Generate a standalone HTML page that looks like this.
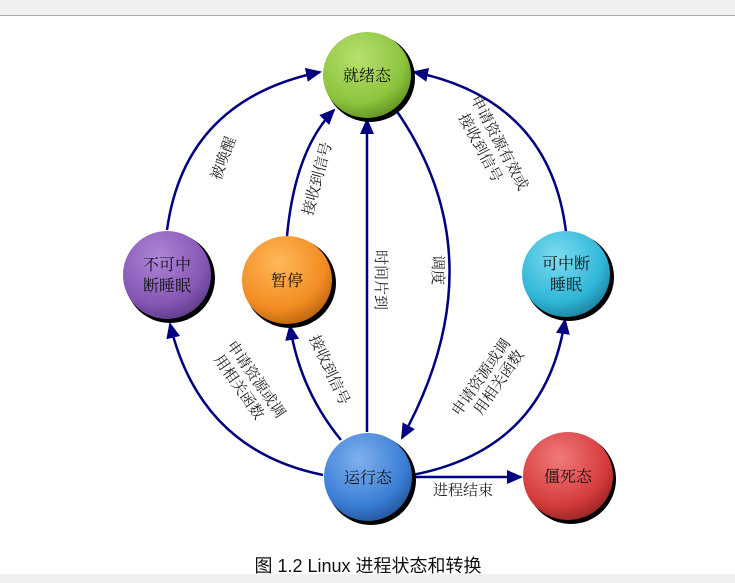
<!DOCTYPE html>
<html><head><meta charset="utf-8"><style>
html,body{margin:0;padding:0;background:#fff;}
body{width:735px;height:583px;overflow:hidden;position:relative;}
svg{position:absolute;left:0;top:0;}
</style></head><body>
<svg width="735" height="583" viewBox="0 0 735 583" xmlns="http://www.w3.org/2000/svg" font-family="'Liberation Serif','Noto Serif CJK SC',serif">
<defs>
<radialGradient id="gG" cx="0.4" cy="0.3" r="0.75"><stop offset="0" stop-color="#b8e070"/><stop offset="0.7" stop-color="#8cc43c"/><stop offset="1" stop-color="#5f8f22"/></radialGradient>
<radialGradient id="gP" cx="0.4" cy="0.3" r="0.75"><stop offset="0" stop-color="#ad86d6"/><stop offset="0.7" stop-color="#8657b6"/><stop offset="1" stop-color="#5c3a85"/></radialGradient>
<radialGradient id="gO" cx="0.4" cy="0.3" r="0.75"><stop offset="0" stop-color="#ffb85a"/><stop offset="0.7" stop-color="#f28c22"/><stop offset="1" stop-color="#b8620e"/></radialGradient>
<radialGradient id="gC" cx="0.4" cy="0.3" r="0.75"><stop offset="0" stop-color="#7ddcf0"/><stop offset="0.7" stop-color="#2fb6d8"/><stop offset="1" stop-color="#1a7f9c"/></radialGradient>
<radialGradient id="gB" cx="0.4" cy="0.3" r="0.75"><stop offset="0" stop-color="#7fb0ee"/><stop offset="0.7" stop-color="#3b7ed6"/><stop offset="1" stop-color="#22539a"/></radialGradient>
<radialGradient id="gR" cx="0.4" cy="0.3" r="0.75"><stop offset="0" stop-color="#f07a7a"/><stop offset="0.7" stop-color="#d63c3c"/><stop offset="1" stop-color="#962222"/></radialGradient>
<marker id="ar" markerWidth="16" markerHeight="14" refX="14" refY="7" orient="auto" markerUnits="userSpaceOnUse"><path d="M0,0 L16,7 L0,14 Z" fill="#000080"/></marker>
</defs>
<rect x="0" y="0" width="735" height="15" fill="#f0f0f0"/>
<line x1="0" y1="15.5" x2="735" y2="15.5" stroke="#aaa"/>
<rect x="0" y="574" width="735" height="9" fill="#f0f0f0"/>

<g fill="none" stroke="#000080" stroke-width="2.5" marker-end="url(#ar)">
<path d="M167,230 Q185,100 320,72"/>
<path d="M287,236 Q295,150 334,110"/>
<path d="M367,432 L367,120"/>
<path d="M396,110 Q500,260 402,438"/>
<path d="M566,232 Q550,100 414,72"/>
<path d="M323,475 Q200,450 170,324"/>
<path d="M341,440 Q300,390 290,326"/>
<path d="M412,475 Q545,450 565,320"/>
<path d="M412,477 L521,477"/>
</g>

<g>
<ellipse cx="370" cy="78" rx="45" ry="44" fill="#000"/>
<ellipse cx="367" cy="75" rx="44" ry="43" fill="url(#gG)"/>
<ellipse cx="170" cy="278" rx="45" ry="45" fill="#000"/>
<ellipse cx="167" cy="275" rx="44" ry="44" fill="url(#gP)"/>
<ellipse cx="290" cy="283" rx="46" ry="45" fill="#000"/>
<ellipse cx="287" cy="280" rx="45" ry="44" fill="url(#gO)"/>
<ellipse cx="569" cy="277" rx="45" ry="44" fill="#000"/>
<ellipse cx="566" cy="274" rx="44" ry="43" fill="url(#gC)"/>
<ellipse cx="371" cy="480" rx="45" ry="45" fill="#000"/>
<ellipse cx="368" cy="477" rx="44" ry="44" fill="url(#gB)"/>
<ellipse cx="571" cy="479" rx="45" ry="45" fill="#000"/>
<ellipse cx="568" cy="476" rx="45" ry="44" fill="url(#gR)"/>
</g>

<g font-size="16" fill="#111" text-anchor="middle">
<text x="367" y="81">就绪态</text>
<text x="167" y="270">不可中</text>
<text x="167" y="291">断睡眠</text>
<text x="287" y="286">暂停</text>
<text x="566" y="269">可中断</text>
<text x="566" y="290">睡眠</text>
<text x="368" y="483">运行态</text>
<text x="568" y="482">僵死态</text>
</g>

<g font-size="15" fill="#222" text-anchor="middle">
<text transform="translate(228,160) rotate(-70)">被唤醒</text>
<text transform="translate(322,180) rotate(-75)">接收到信号</text>
<text transform="translate(376,280) rotate(90)">时间片到</text>
<text transform="translate(433,270) rotate(90)">调度</text>
<text transform="translate(495,145) rotate(62)">申请资源有效或</text>
<text transform="translate(476,150) rotate(62)">接收到信号</text>
<text transform="translate(252,382) rotate(55)">申请资源或调</text>
<text transform="translate(235,390) rotate(55)">用相关函数</text>
<text transform="translate(325,372) rotate(65)">接收到信号</text>
<text transform="translate(485,380) rotate(-55)">申请资源或调</text>
<text transform="translate(503,385) rotate(-55)">用相关函数</text>
<text x="463" y="495">进程结束</text>
</g>

<text x="368" y="572" font-size="18" text-anchor="middle" fill="#111" font-family="'Liberation Sans','Noto Sans CJK SC',sans-serif">图  1.2 Linux 进程状态和转换</text>
</svg>
</body></html>
